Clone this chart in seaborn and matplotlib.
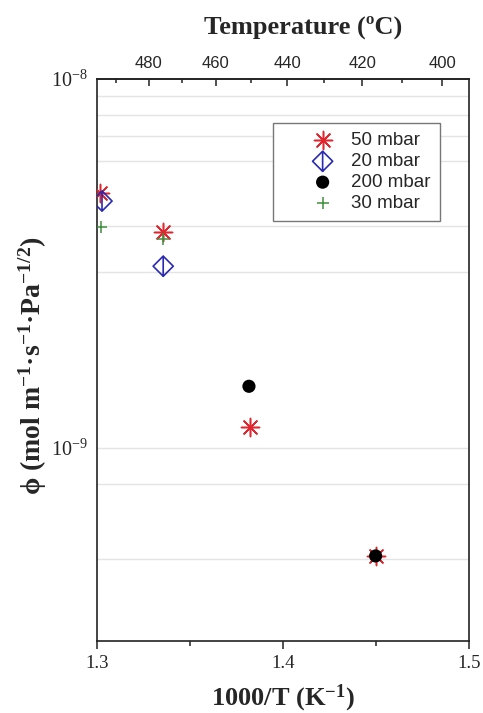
import numpy as np
import matplotlib
matplotlib.use("Agg")
import matplotlib.pyplot as plt
from matplotlib.path import Path
from matplotlib.ticker import FixedLocator, LogFormatterMathtext, NullLocator
import seaborn as sns

# ---- data: inverse temperature (1000/T, K^-1) and permeability phi ----
x_50 = [1.3016, 1.3353, 1.3825, 1.4498]
y_50 = [4.91e-9, 3.84e-9, 1.14e-9, 5.10e-10]

x_20 = [1.3027, 1.3356]
y_20 = [4.67e-9, 3.11e-9]

x_200 = [1.3817, 1.4498]
y_200 = [1.47e-9, 5.10e-10]

x_30 = [1.3022, 1.3353]
y_30 = [3.98e-9, 3.68e-9]

series_labels = ["50 mbar", "20 mbar", "200 mbar", "30 mbar"]
x_ticks = [1.3, 1.4, 1.5]
temp_ticks = [480, 460, 440, 420, 400]
temp_minor = [490, 470, 450, 430, 410]

sns.set_style("white")
plt.rcParams["font.family"] = ["Liberation Serif", "DejaVu Serif"]
plt.rcParams["mathtext.fontset"] = "custom"
plt.rcParams["mathtext.rm"] = "Liberation Serif"
plt.rcParams["mathtext.bf"] = "Liberation Serif:bold"
plt.rcParams["mathtext.it"] = "Liberation Serif:italic"

fig = plt.figure(figsize=(4.83, 7.13), dpi=100)
ax = fig.add_axes([0.2008, 0.1010, 0.7702, 0.7882])

# light horizontal guide lines
for g in [9e-9, 8e-9, 7e-9, 6e-9, 4e-9, 3e-9, 1e-9, 8e-10, 5e-10]:
    ax.axhline(g, color="#e4e4e4", lw=1.0, zorder=0)

# diamond with a vertical bar through it
diamond_bar = Path(
    [(0, 1), (1, 0), (0, -1), (-1, 0), (0, 1), (0, -1)],
    [Path.MOVETO, Path.LINETO, Path.LINETO, Path.LINETO, Path.LINETO, Path.LINETO],
)

red = "#e0262e"
blue = "#2a2ab4"
green = "#3f8f3f"

sns.scatterplot(x=x_50, y=y_50, marker=(8, 2, 0), s=170, color=red,
                linewidth=1.1, label=series_labels[0], ax=ax, zorder=3)
sns.scatterplot(x=x_20, y=y_20, marker=diamond_bar, s=210, facecolors="none",
                edgecolors=blue, linewidth=1.2, label=series_labels[1], ax=ax, zorder=3)
sns.scatterplot(x=x_200, y=y_200, marker="o", s=90, color="black",
                edgecolor="none", label=series_labels[2], ax=ax, zorder=4)
sns.scatterplot(x=x_30, y=y_30, marker="+", s=80, color=green,
                linewidth=1.1, label=series_labels[3], ax=ax, zorder=3)

ax.set_yscale("log")
ax.set_xlim(1.3, 1.5)
ax.set_ylim(3.0e-10, 1e-8)

ax.xaxis.set_major_locator(FixedLocator(x_ticks))
ax.xaxis.set_minor_locator(FixedLocator([1.35, 1.45]))
ax.set_xticklabels([f"{v:.1f}" for v in x_ticks])
ax.yaxis.set_major_locator(FixedLocator([1e-9, 1e-8]))
ax.yaxis.set_major_formatter(LogFormatterMathtext())
ax.yaxis.set_minor_locator(NullLocator())

ax.tick_params(axis="x", which="major", direction="out", length=6, width=1.1,
               labelsize=13.5, pad=4, bottom=True, top=False, color="#222222")
ax.tick_params(axis="x", which="minor", direction="out", length=3.5, width=1.1,
               bottom=True, top=False, color="#222222")
ax.tick_params(axis="y", which="both", length=0, labelsize=14.5, pad=7, left=True)

for sp in ax.spines.values():
    sp.set_linewidth(1.2)
    sp.set_color("#222222")

# secondary temperature axis on top
def inv_to_temp(x):
    x = np.asarray(x, dtype=float)
    with np.errstate(divide="ignore", invalid="ignore"):
        return 1000.0 / x - 273.15

def temp_to_inv(t):
    t = np.asarray(t, dtype=float)
    with np.errstate(divide="ignore", invalid="ignore"):
        return 1000.0 / (t + 273.15)

top = ax.secondary_xaxis("top", functions=(inv_to_temp, temp_to_inv))
top.set_xticks(temp_ticks)
top.xaxis.set_minor_locator(FixedLocator(temp_minor))
top.tick_params(axis="x", which="major", direction="in", length=5, width=1.1,
                pad=6, labelsize=12, color="#222222")
top.tick_params(axis="x", which="minor", direction="in", length=3, width=1.1,
                color="#222222")
for lab in top.get_xticklabels():
    lab.set_family("Liberation Sans")
top.spines["top"].set_linewidth(1.2)
top.set_xlabel("Temperature (ºC)", fontsize=19, fontweight="bold")
top.xaxis.set_label_coords(0.554, 1.081, transform=ax.transAxes)

ax.set_xlabel(r"1000/T (K$^{\mathbf{-1}}$)", fontsize=19, fontweight="bold")
ax.xaxis.set_label_coords(0.5, -0.074)
ax.set_ylabel(r"ϕ (mol m$^{\mathbf{-1}}$·s$^{\mathbf{-1}}$·Pa$^{\mathbf{-1/2}}$)",
              fontsize=20, fontweight="bold")
ax.yaxis.set_label_coords(-0.128, 0.49)

leg = ax.legend(loc="upper left", bbox_to_anchor=(0.473, 0.922), frameon=True,
                fancybox=False, edgecolor="#777777", framealpha=1,
                prop={"family": "Liberation Sans", "size": 13.5},
                borderpad=0.5, handlelength=4.3, handletextpad=-0.65,
                labelspacing=0.2, borderaxespad=0)
leg.get_frame().set_linewidth(1.0)

fig.savefig("out.png", dpi=100)
